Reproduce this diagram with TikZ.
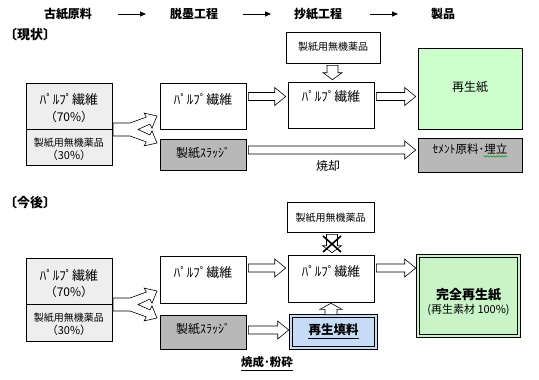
\documentclass[tikz,border=0pt]{standalone}
\usepackage{fontspec}
\setmainfont{Noto Sans CJK JP}
\usetikzlibrary{fit,calc,arrows.meta,decorations.pathmorphing}
\definecolor{srcfill}{RGB}{238,238,238}
\definecolor{slgray}{RGB}{184,184,184}
\definecolor{paleg}{RGB}{204,255,204}
\definecolor{paleg2}{RGB}{200,244,200}
\definecolor{paleblue}{RGB}{198,220,246}
\newcommand\fs[1]{\fontsize{#1}{#1}\selectfont}
% right block arrow: #1 left anchor, #2 right anchor, #3 centre y (px)
\newcommand\rarr[3]{%
  \draw[blk] let \p1=(#1), \p2=(#2) in
   ({\x1+2pt},{-#3pt+4pt}) -- ({\x2-13pt},{-#3pt+4pt}) -- ({\x2-13pt},{-#3pt+9pt})
   -- ({\x2-2pt},{-#3pt}) -- ({\x2-13pt},{-#3pt-9pt}) -- ({\x2-13pt},{-#3pt-4pt})
   -- ({\x1+2pt},{-#3pt-4pt}) -- cycle;}
% down block arrow: #1 upper anchor, #2 lower anchor, #3 centre x (px)
\newcommand\darr[3]{%
  \draw[blk] let \p1=(#1), \p2=(#2) in
   ({#3pt-5.5pt},{\y1-2pt}) -- ({#3pt+5.5pt},{\y1-2pt}) -- ({#3pt+5.5pt},{\y2+9pt})
   -- ({#3pt+9.5pt},{\y2+9pt}) -- ({#3pt},{\y2+2pt}) -- ({#3pt-9.5pt},{\y2+9pt})
   -- ({#3pt-5.5pt},{\y2+9pt}) -- cycle;}
% up block arrow: #1 upper anchor, #2 lower anchor, #3 centre x (px)
\newcommand\uarr[3]{%
  \draw[blk] let \p1=(#1), \p2=(#2) in
   ({#3pt},{\y1-1pt}) -- ({#3pt+11pt},{\y1-7pt}) -- ({#3pt+6pt},{\y1-7pt})
   -- ({#3pt+6pt},{\y2+1pt}) -- ({#3pt-6pt},{\y2+1pt}) -- ({#3pt-6pt},{\y1-7pt})
   -- ({#3pt-11pt},{\y1-7pt}) -- cycle;}
\begin{document}
\begin{tikzpicture}[x=1pt,y=-1pt,
  box/.style={draw, line width=0.6pt, inner sep=0pt},
  srcbox/.style={box, fill=srcfill},
  sludgebox/.style={box, fill=slgray},
  dbox/.style={draw, line width=0.6pt, double distance=2pt, inner sep=0pt},
  blk/.style={draw, fill=white, line width=0.6pt, line join=miter},
  txt/.style={inner sep=0pt},
  uline/.style={line width=1.2pt},
  harr/.style={line width=0.8pt, -{Triangle[length=6pt,width=5pt]}},
  forkshape/.pic={
    \draw[blk] (113,123) -- (130,123) -- (146.3,117.1) -- (144.2,113.1) -- (157,116)
      -- (152,128.1) -- (149.9,124.1) -- (138,129.5) -- (149.9,134.9) -- (152,130.9)
      -- (157,143) -- (144.2,145.9) -- (146.3,141.9) -- (130,136) -- (113,136) -- cycle;}
]
\useasboundingbox (0,0) rectangle (539,380);

% ---------------- header ----------------
\node[txt, font=\fs{12}\bfseries] (h1) at (68,14) {古紙原料};
\node[txt, font=\fs{12}\bfseries] (h2) at (194,14) {脱墨工程};
\node[txt, font=\fs{12}\bfseries] (h3) at (318,14) {抄紙工程};
\node[txt, font=\fs{12}\bfseries] (h4) at (443,14) {製品};
\coordinate (a1s) at (118,14); \coordinate (a1e) at (146,14);
\coordinate (a2s) at (243,14); \coordinate (a2e) at (271,14);
\coordinate (a3s) at (370,14); \coordinate (a3e) at (398,14);
\draw[harr] (a1s) -- (a1e);
\draw[harr] (a2s) -- (a2e);
\draw[harr] (a3s) -- (a3e);

\node[txt, font=\fs{13}\bfseries, anchor=west] (cur) at (4,35) {〔現状〕};
\node[txt, font=\fs{13}\bfseries, anchor=west] (fut) at (4,203) {〔今後〕};

% ---------------- current ----------------
\node[srcbox, fit={(26,83)(112,165)}] (src1) {};
\coordinate (dv1) at (0,129);
\draw[line width=0.6pt] (src1.west |- dv1) -- (src1.east |- dv1);
\node[txt, font=\fs{13}] (s1a) at (69,100) {ﾊﾟﾙﾌﾟ繊維};
\node[txt, font=\fs{12}] (s1b) at (69,117) {（70\%）};
\node[txt, font=\fs{10}] (s1c) at (69,143) {製紙用無機薬品};
\node[txt, font=\fs{11}] (s1d) at (69,155) {（30\%）};

\node[box, fit={(160,83)(246,129)}] (dp1) {};
\node[txt, font=\fs{13}] (dp1t) at (203,100) {ﾊﾟﾙﾌﾟ繊維};
\node[sludgebox, fit={(160,139)(246,170)}] (sl1) {};
\node[txt, font=\fs{12}] (sl1t) at (203,153) {製紙ｽﾗｯｼﾞ};

\node[box, fit={(286,32)(380,63)}] (ch1) {};
\node[txt, font=\fs{10}] (ch1t) at (333,47) {製紙用無機薬品};
\node[box, fit={(288,82)(374,128)}] (pp1) {};
\node[txt, font=\fs{13}] (pp1t) at (331,97) {ﾊﾟﾙﾌﾟ繊維};

\node[box, fill=paleg, fit={(418,48)(522,129)}] (rp1) {};
\node[txt, font=\fs{12}] (rp1t) at (470,87) {再生紙};
\node[sludgebox, fit={(418,138)(522,172)}] (cm1) {};
\node[txt, font=\fs{11.5}] (cm1t) at (470,149) {ｾﾒﾝﾄ原料･埋立};
\draw[green!60!black, line width=0.5pt, decorate,
      decoration={snake, amplitude=0.8pt, segment length=3pt}]
      ($(cm1t.south east)+(-24,2)$) -- ($(cm1t.south east)+(0,2)$);

\pic {forkshape};
\rarr{dp1.east}{pp1.west}{96.5}
\rarr{pp1.east}{rp1.west}{96.5}
\rarr{sl1.east}{cm1.west}{150}
\darr{ch1.south}{pp1.north}{332.5}
\node[txt, font=\fs{12}] (burn) at (328,166) {焼却};

% ---------------- future ----------------
\node[srcbox, fit={(26,258)(112,341)}] (src2) {};
\coordinate (dv2) at (0,304);
\draw[line width=0.6pt] (src2.west |- dv2) -- (src2.east |- dv2);
\node[txt, font=\fs{13}] (s2a) at (69,275) {ﾊﾟﾙﾌﾟ繊維};
\node[txt, font=\fs{12}] (s2b) at (69,292) {（70\%）};
\node[txt, font=\fs{10}] (s2c) at (69,318) {製紙用無機薬品};
\node[txt, font=\fs{11}] (s2d) at (69,330) {（30\%）};

\node[box, fit={(160,256)(246,303)}] (dp2) {};
\node[txt, font=\fs{13}] (dp2t) at (203,273) {ﾊﾟﾙﾌﾟ繊維};
\node[sludgebox, fit={(160,315)(246,349)}] (sl2) {};
\node[txt, font=\fs{12}] (sl2t) at (203,329) {製紙ｽﾗｯｼﾞ};

\node[box, fit={(287,202)(374,232)}] (ch2) {};
\node[txt, font=\fs{10}] (ch2t) at (330.5,218) {製紙用無機薬品};
\node[box, fit={(288,255)(374,302)}] (pp2) {};
\node[txt, font=\fs{13}] (pp2t) at (331,272) {ﾊﾟﾙﾌﾟ繊維};

\node[dbox, fill=paleblue, double=paleblue, fit={(291,316)(376,348)}] (rf2) {};
\node[txt, font=\fs{12.5}\bfseries] (rf2t) at (333.5,329.5) {再生填料};
\draw[uline] ($(rf2t.base west)+(0,4)$) -- ($(rf2t.base east)+(0,4)$);

\node[dbox, fill=paleg2, double=paleg2, fit={(418,256)(519,336)}] (fr2) {};
\node[txt, font=\fs{13}\bfseries] (fr2a) at (468.5,295) {完全再生紙};
\node[txt, font=\fs{11}] (fr2b) at (468.5,310) {(再生素材 100\%)};

\begin{scope}[shift={(0,175)}]
  \pic {forkshape};
\end{scope}
\rarr{dp2.east}{pp2.west}{268}
\rarr{pp2.east}{fr2.west}{268}
\rarr{sl2.east}{rf2.west}{330}
\darr{ch2.south}{pp2.north}{332}
\coordinate (xa) at (323,236); \coordinate (xb) at (341,252);
\coordinate (xc) at (341,236); \coordinate (xd) at (323,252);
\draw[line width=1.6pt] (xa) -- (xb) (xc) -- (xd);
\uarr{pp2.south}{rf2.north}{331}
\node[txt, font=\fs{11.5}\bfseries] (burnmill) at (267,362) {焼成･粉砕};
\draw[uline] ($(burnmill.base west)+(0,4)$) -- ($(burnmill.base east)+(0,4)$);
\end{tikzpicture}
\end{document}
